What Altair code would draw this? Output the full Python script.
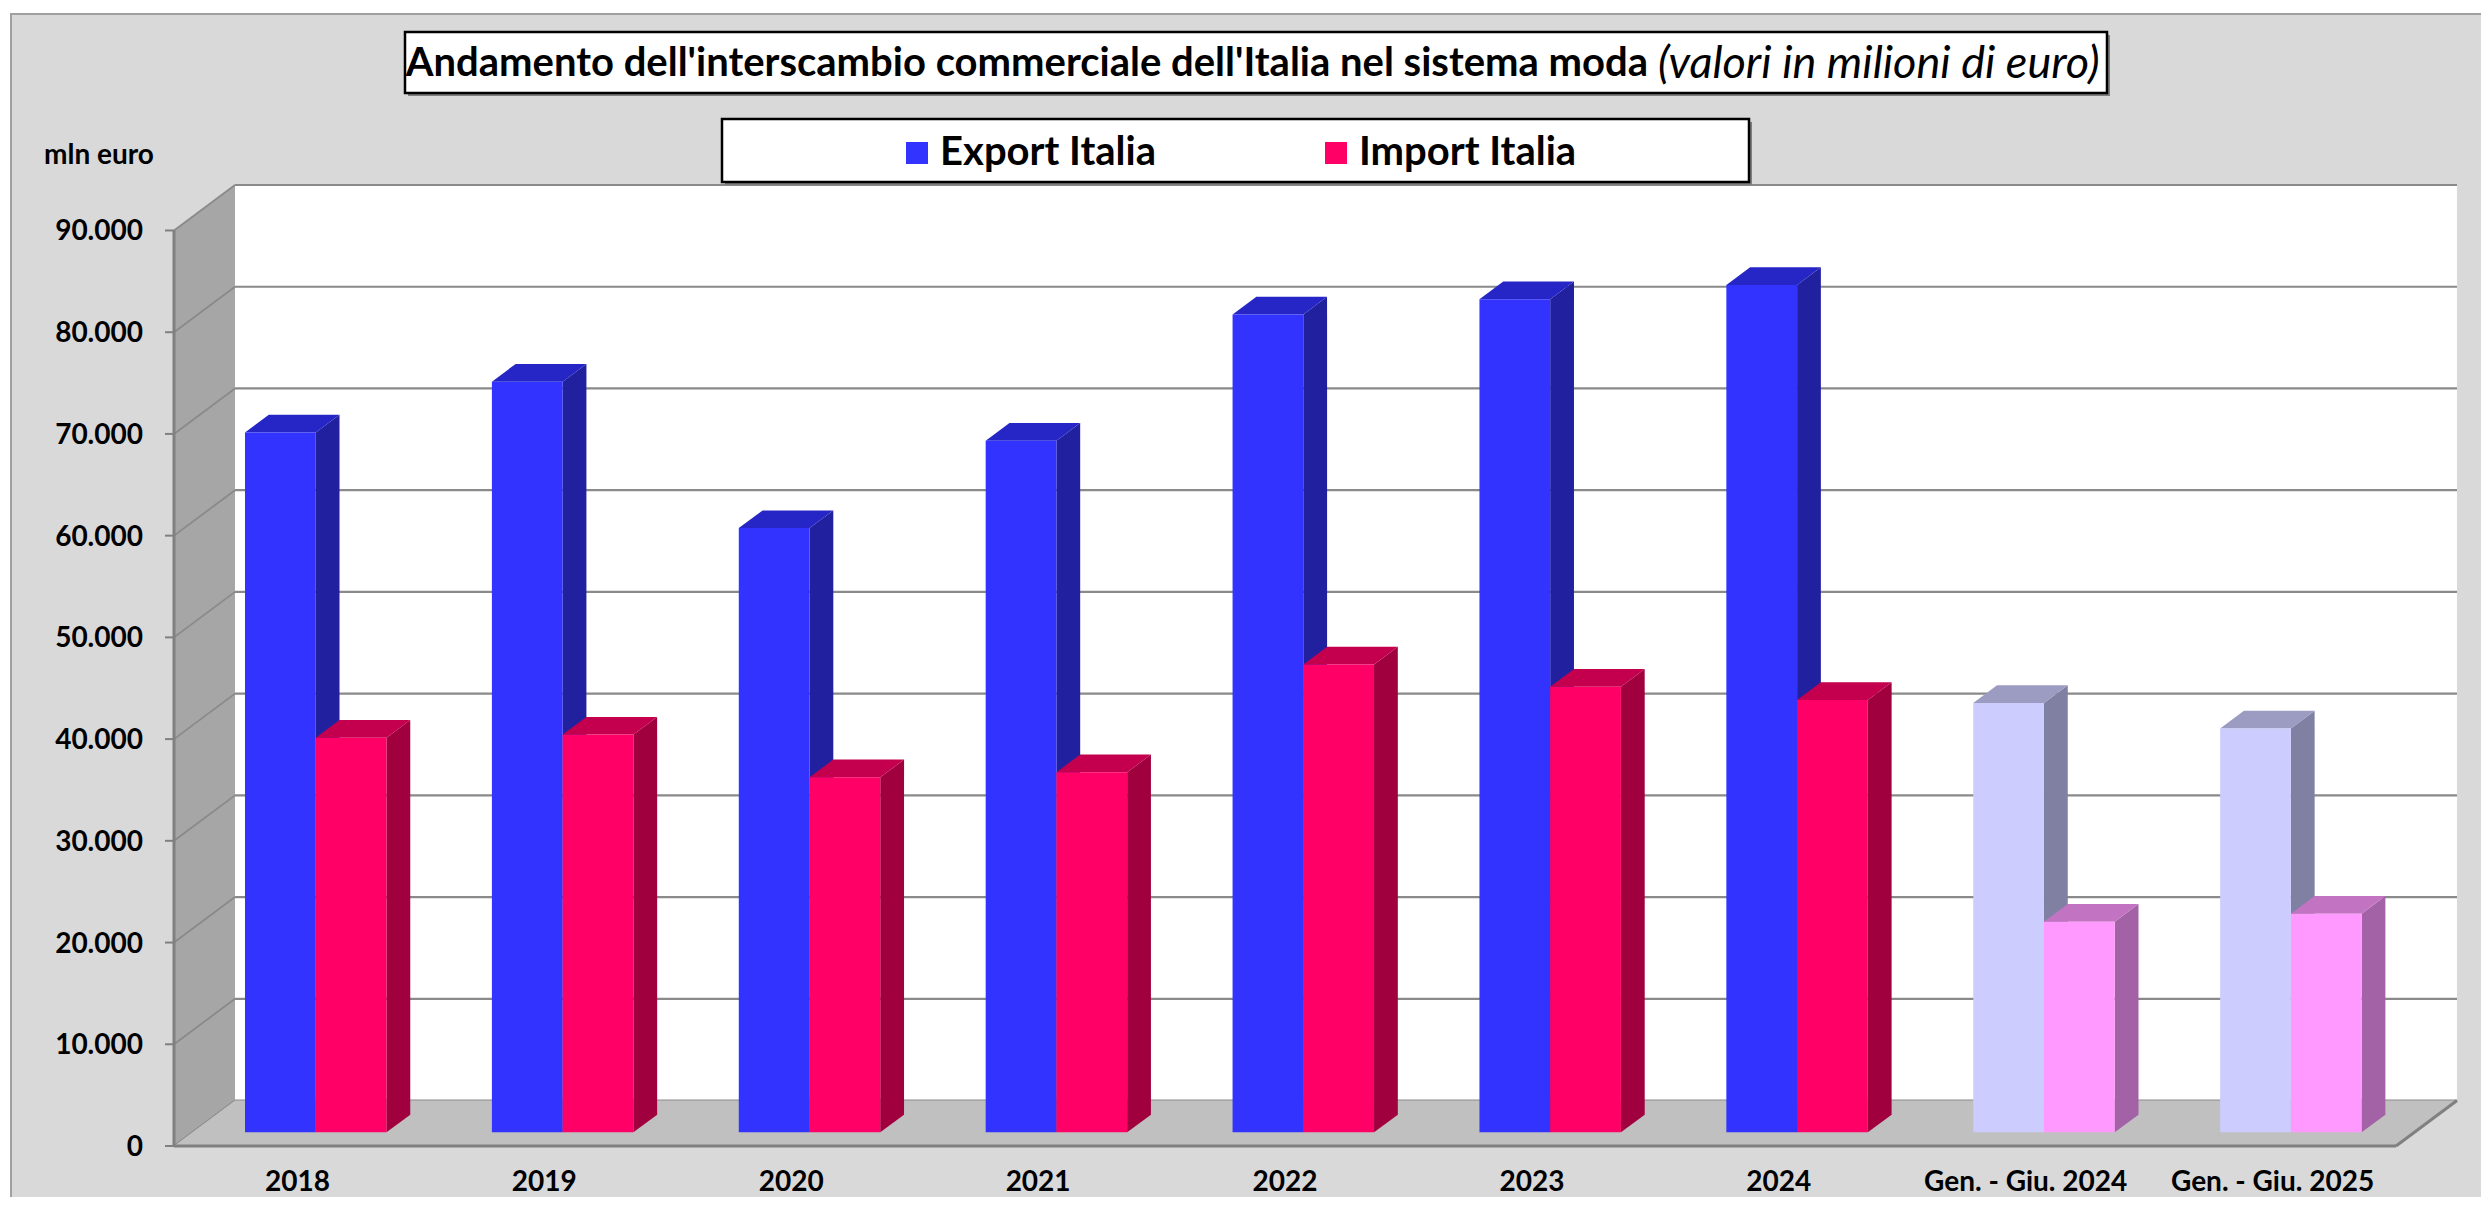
import altair as alt
import pandas as pd

# ---------------- data ----------------
categories = ["2018", "2019", "2020", "2021", "2022", "2023", "2024",
              "Gen. - Giu. 2024", "Gen. - Giu. 2025"]
export_values = [68800, 73800, 59400, 68000, 80400, 81900, 83300, 42200, 39700]
import_values = [38800, 39100, 34900, 35400, 46000, 43800, 42500, 20700, 21500]
partial_year = [False, False, False, False, False, False, False, True, True]
series_names = ["Export Italia", "Import Italia"]
y_ticks = [0, 10000, 20000, 30000, 40000, 50000, 60000, 70000, 80000, 90000]

title_bold = "Andamento dell'interscambio commerciale dell'Italia nel sistema moda"
title_italic = "(valori in milioni di euro)"
y_unit = "mln euro"

# ---------------- style ----------------
face_colors = {
    ("Export Italia", False): {"front": "#3333FF", "top": "#2626C6", "side": "#2121A0"},
    ("Import Italia", False): {"front": "#FF0066", "top": "#C4004E", "side": "#A1003F"},
    ("Export Italia", True): {"front": "#CCCCFF", "top": "#9C9CC2", "side": "#8080A3"},
    ("Import Italia", True): {"front": "#FF99FF", "top": "#C274C2", "side": "#A362A6"},
}
N = len(categories)
YMAX = 90000
DX = 0.247      # depth shift, in category units
DY = 4470       # depth shift, in value units
GROUP_W = 0.573  # width of the pair of bars, in category units
D0, D1 = 0.30, 0.69  # bar depth range (fraction of the full depth)
PX_PER_CAT = 246.9
PLOT_W = round((N + DX) * PX_PER_CAT)
PLOT_H = 961

GRID = "#8A8A8A"
FONT = "Lato"
xs = alt.Scale(domain=[0, N + DX], nice=False, zero=False)
ys = alt.Scale(domain=[0, YMAX + DY], nice=False, zero=False)

# ---------------- derived tables ----------------
rows_front, rows_side, rows_top = [], [], []
for i, cat in enumerate(categories):
    for s, (name, vals) in enumerate(zip(series_names, [export_values, import_values])):
        v = vals[i]
        part = partial_year[i]
        key = name + (" (gen.-giu.)" if part else "")
        cols = face_colors[(name, part)]
        xl = i + 0.5 - GROUP_W / 2 + s * GROUP_W / 2
        xr = xl + GROUP_W / 2
        bid = f"{i:02d}-{s}"
        rows_front.append(dict(bar=bid, series=name, key=key, cat=cat, value=v,
                               x=xl + D0 * DX, x2=xr + D0 * DX, y=D0 * DY, y2=v + D0 * DY))
        for k, d in enumerate((D0, D1)):
            rows_side.append(dict(bar=bid, series=name, k=k, x=xr + d * DX,
                                  y=v + d * DY, y2=d * DY, col=cols["side"]))
            rows_top.append(dict(bar=bid, series=name, k=k, y=v + d * DY,
                                 x=xl + d * DX, x2=xr + d * DX, col=cols["top"]))
df_front = pd.DataFrame(rows_front)
df_side = pd.DataFrame(rows_side)
df_top = pd.DataFrame(rows_top)
df_cat = pd.DataFrame({"name": categories,
                       "xc": [i + 0.5 for i in range(N)],
                       "y0": [0.0] * N})

legend_domain = ["Export Italia", "Import Italia",
                 "Export Italia (gen.-giu.)", "Import Italia (gen.-giu.)"]
legend_range = [face_colors[("Export Italia", False)]["front"],
                face_colors[("Import Italia", False)]["front"],
                face_colors[("Export Italia", True)]["front"],
                face_colors[("Import Italia", True)]["front"]]

one = pd.DataFrame({"a": [0]})

# ---------------- panel, walls, floor ----------------
panel = alt.Chart(one).mark_rect(fill="#D9D9D9", stroke="#A0A0A0", strokeWidth=2).encode(
    x=alt.value(-163), x2=alt.value(2340), y=alt.value(-171), y2=alt.value(1040))

grid_df = pd.DataFrame({"v": y_ticks})
grid_df["yb"] = grid_df["v"] + DY
grid_df["x1"] = DX
grid_df["x2"] = N + DX
grid_df["x0"] = 0.0

wall_df = pd.DataFrame({"x": [DX], "x2": [N + DX], "y": [DY], "y2": [YMAX + DY]})
back_wall = alt.Chart(wall_df).mark_rect(color="white").encode(
    x=alt.X("x:Q", scale=xs, axis=None), x2="x2:Q",
    y=alt.Y("y:Q", scale=ys, axis=None), y2="y2:Q",
)
back_grid = alt.Chart(grid_df).mark_rule(color=GRID, strokeWidth=2.2).encode(
    x=alt.X("x1:Q", scale=xs, axis=None), x2="x2:Q",
    y=alt.Y("yb:Q", scale=ys, axis=None),
)
left_wall_df = pd.DataFrame({"x": [0.0, DX], "y": [YMAX, YMAX + DY], "y2": [0.0, DY]})
left_wall = alt.Chart(left_wall_df).mark_area(orient="vertical", color="#A6A6A6").encode(
    x=alt.X("x:Q", scale=xs, axis=None),
    y=alt.Y("y:Q", scale=ys, axis=None, stack=None), y2="y2:Q",
)
left_grid = alt.Chart(grid_df).mark_rule(color=GRID, strokeWidth=1.8).encode(
    x=alt.X("x0:Q", scale=xs, axis=None), x2="x1:Q",
    y=alt.Y("v:Q", scale=ys, axis=None), y2="yb:Q",
)
floor_df = pd.DataFrame({"y": [0.0, DY], "x": [0.0, DX], "x2": [float(N), N + DX]})
floor = alt.Chart(floor_df).mark_area(orient="horizontal", color="#C0C0C0").encode(
    y=alt.Y("y:Q", scale=ys, axis=None),
    x=alt.X("x:Q", scale=xs, axis=None, stack=None), x2="x2:Q",
)
edge_df = pd.DataFrame({
    "x": [0.0, float(N), 0.0],
    "x2": [float(N), N + DX, 0.0],
    "y": [0.0, 0.0, 0.0],
    "y2": [0.0, DY, float(YMAX)],
})
edges = alt.Chart(edge_df).mark_rule(color="#808080", strokeWidth=3).encode(
    x=alt.X("x:Q", scale=xs, axis=None), x2="x2:Q",
    y=alt.Y("y:Q", scale=ys, axis=None), y2="y2:Q",
)

# ---------------- value axis (front plane) ----------------
y_tick_marks = alt.Chart(grid_df).mark_rule(color="#808080", strokeWidth=2).encode(
    x=alt.value(-9), x2=alt.value(0),
    y=alt.Y("v:Q", scale=ys, axis=None),
)
y_labels = alt.Chart(grid_df).transform_calculate(
    label="replace(format(datum.v, ','), ',', '.')"
).mark_text(align="right", baseline="middle", dx=-31, dy=2, font=FONT, fontWeight="bold",
            fontSize=28, color="black").encode(
    x=alt.X("x0:Q", scale=xs, axis=None),
    y=alt.Y("v:Q", scale=ys, axis=None),
    text="label:N",
)
y_title = alt.Chart(pd.DataFrame({"t": [y_unit]})).mark_text(
    align="left", baseline="middle", font=FONT, fontWeight="bold", fontSize=28,
    color="black").encode(x=alt.value(-130), y=alt.value(-29), text="t:N")

# ---------------- category labels ----------------
x_labels = alt.Chart(df_cat).mark_text(
    align="center", baseline="alphabetic", dy=45, font=FONT, fontWeight="bold",
    fontSize=28, color="black").encode(
    x=alt.X("xc:Q", scale=xs, axis=None),
    y=alt.Y("y0:Q", scale=ys, axis=None),
    text="name:N",
)

# ---------------- bars ----------------
bar_layers = []
for name in series_names:
    side = alt.Chart(df_side[df_side.series == name]).mark_area(orient="vertical").encode(
        x=alt.X("x:Q", scale=xs, axis=None),
        y=alt.Y("y:Q", scale=ys, axis=None, stack=None), y2="y2:Q",
        detail="bar:N",
        color=alt.Color("col:N", scale=None),
    )
    top = alt.Chart(df_top[df_top.series == name]).mark_area(orient="horizontal").encode(
        y=alt.Y("y:Q", scale=ys, axis=None),
        x=alt.X("x:Q", scale=xs, axis=None, stack=None), x2="x2:Q",
        detail="bar:N",
        color=alt.Color("col:N", scale=None),
    )
    front = alt.Chart(df_front[df_front.series == name]).mark_rect().encode(
        x=alt.X("x:Q", scale=xs, axis=None), x2="x2:Q",
        y=alt.Y("y:Q", scale=ys, axis=None), y2="y2:Q",
        fill=alt.Fill("key:N",
                      scale=alt.Scale(domain=legend_domain, range=legend_range),
                      legend=alt.Legend(values=series_names, title=None, orient="none",
                                        legendX=723, legendY=-52, direction="horizontal",
                                        symbolType="square", symbolSize=484,
                                        symbolStrokeWidth=0, symbolOpacity=1,
                                        labelFont=FONT, labelFontWeight="bold",
                                        labelFontSize=40, labelColor="black",
                                        labelOffset=3, columnPadding=160,
                                        labelLimit=0)),
        tooltip=["cat:N", "series:N", "value:Q"],
    )
    bar_layers += [side, top, front]

# ---------------- title and legend boxes ----------------
def box(x1, x2, y1, y2):
    shadow = alt.Chart(one).mark_rect(fill="#7F7F7F").encode(
        x=alt.value(x1 + 3), x2=alt.value(x2 + 3), y=alt.value(y1 + 3), y2=alt.value(y2 + 3))
    frame = alt.Chart(one).mark_rect(fill="white", stroke="black", strokeWidth=2.5).encode(
        x=alt.value(x1), x2=alt.value(x2), y=alt.value(y1), y2=alt.value(y2))
    return [shadow, frame]

title_box = box(231, 1933, -153, -92)
legend_box = box(548, 1575, -66, -3)

title_b = alt.Chart(pd.DataFrame({"t": [title_bold]})).mark_text(
    align="right", baseline="middle", font=FONT, fontWeight="bold", fontSize=40,
    color="black").encode(x=alt.value(1474), y=alt.value(-121), text="t:N")
title_i = alt.Chart(pd.DataFrame({"t": [title_italic]})).mark_text(
    align="left", baseline="middle", font=FONT, fontStyle="italic", fontWeight="normal",
    fontSize=45, color="black").encode(x=alt.value(1484), y=alt.value(-121), text="t:N")

chart = alt.layer(
    panel, back_wall, back_grid, left_wall, left_grid, floor, edges,
    y_tick_marks, y_labels, y_title, x_labels,
    *bar_layers,
    *title_box, title_b, title_i, *legend_box,
).properties(
    width=PLOT_W, height=PLOT_H,
    padding={"left": 166, "top": 177, "right": 24, "bottom": 51},
    autosize=alt.AutoSizeParams(type="none"),
    background="white",
).configure_view(stroke=None)

chart.save("out.html", embed_options={"renderer": "svg", "actions": False})
